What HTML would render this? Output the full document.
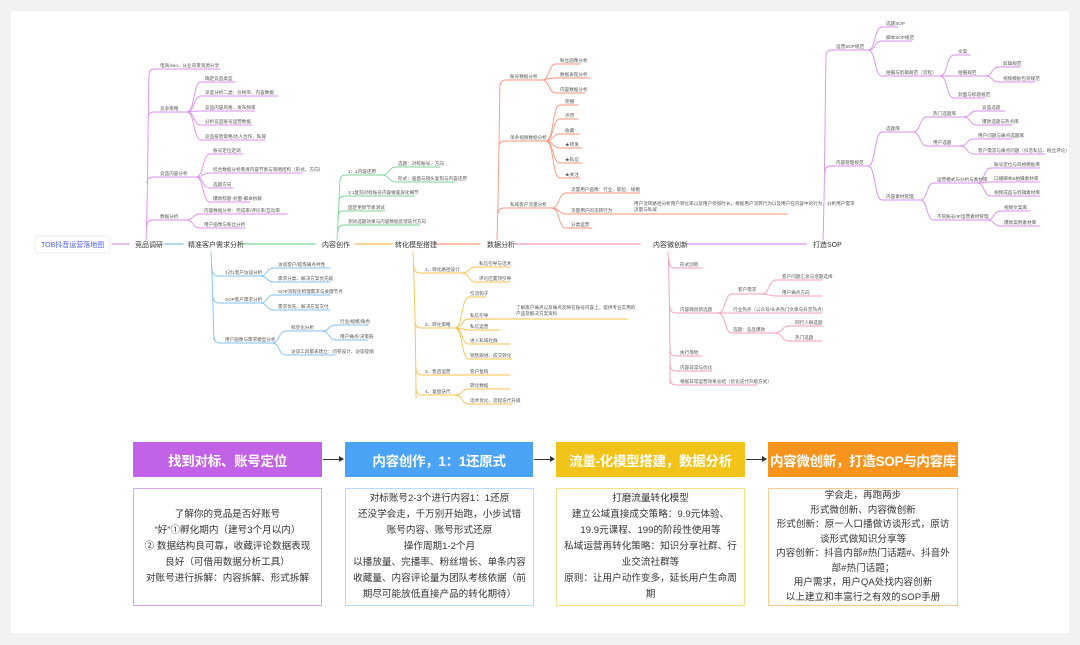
<!DOCTYPE html>
<html><head><meta charset="utf-8">
<style>
html,body{margin:0;padding:0;background:#f2f2f2;}
body{width:1080px;height:645px;overflow:hidden;position:relative;font-family:"Liberation Sans","Noto Sans CJK SC",sans-serif;}
.card{position:absolute;left:11px;top:11px;width:1058px;height:622px;background:#fff;}
svg{position:absolute;left:0;top:0;}
svg text{font-family:"Liberation Sans","Noto Sans CJK SC",sans-serif;font-size:4.6px;fill:#555;}
svg text.m{font-size:7px;fill:#333;}
.hd{position:absolute;top:442px;height:35px;color:#fff;font-weight:bold;font-size:13.5px;letter-spacing:-0.3px;display:flex;align-items:center;justify-content:center;white-space:nowrap;overflow:hidden;}
.bx{position:absolute;top:488px;height:118px;box-sizing:border-box;border:1.5px solid;font-size:9.6px;line-height:16px;color:#333;text-align:center;display:flex;align-items:center;justify-content:center;padding:0 6px;}
.ar{position:absolute;top:459px;height:1px;background:#333;}
.ar:after{content:"";position:absolute;right:-1px;top:-3px;border-left:5px solid #333;border-top:3.5px solid transparent;border-bottom:3.5px solid transparent;}
</style></head><body>
<div class="card"></div>
<svg width="1080" height="645" viewBox="0 0 1080 645" fill="none" stroke-linecap="round">
<rect x="35" y="236" width="75" height="17" rx="3" fill="#fff" stroke="#eee"/>
<text x="41" y="247" style="font-size:7px;fill:#4a5bf0">TOB抖音运营落地图</text>
<g stroke-width="1.3">
<line x1="112" y1="244" x2="129" y2="244" stroke="#e08ef0"/>
<line x1="164" y1="244" x2="183" y2="244" stroke="#7fc0f5"/>
<line x1="239" y1="244" x2="315" y2="244" stroke="#7ed69a"/>
<line x1="355" y1="244" x2="392" y2="244" stroke="#f8c050"/>
<line x1="435" y1="244" x2="480" y2="244" stroke="#f7967a"/>
<line x1="515" y1="244" x2="640" y2="244" stroke="#f59ab8"/>
<line x1="686" y1="244" x2="806" y2="244" stroke="#d98cf0"/>
</g>
<text class="m" x="135" y="247">竞品调研</text>
<text class="m" x="188" y="247">精准客户需求分析</text>
<text class="m" x="322" y="247">内容创作</text>
<text class="m" x="395" y="247">转化模型搭建</text>
<text class="m" x="487" y="247">数据分析</text>
<text class="m" x="653" y="247">内容微创新</text>
<text class="m" x="813" y="247">打造SOP</text>

<g stroke="#e08ef0" stroke-width="0.9">
<path d="M146 240 C148 200,148 100,149 75"/>
<path d="M149 75 Q149 69 155 69 H220"/>
<path d="M148 118 Q148 112 154 112 H187"/>
<path d="M147 183 Q147 177 153 177 H196"/>
<path d="M147 226 Q147 220 153 220 H186"/>
<path d="M187 112 C195 112,193 82,201 82 H235"/>
<path d="M187 112 C195 112,193 96,201 96 H278"/>
<path d="M187 112 Q195 111 201 111 H255"/>
<path d="M187 112 C195 112,193 125,201 125 H252"/>
<path d="M187 112 C195 112,193 140,201 140 H265"/>
<path d="M196 177 C204 177,202 154,210 154 H243"/>
<path d="M196 177 C204 177,202 173,210 173 H302"/>
<path d="M196 177 C204 177,202 188,210 188 H233"/>
<path d="M196 177 C204 177,202 202,210 202 H250"/>
<path d="M186 220 C194 220,192 214,200 214 H287"/>
<path d="M186 220 C194 220,192 228,200 228 H245"/>
</g>
<text x="160" y="67">电商/seo、从业背景资源分享</text>
<text x="160" y="110">竞争策略</text>
<text x="205" y="80">确定竞品类型</text>
<text x="205" y="94">深度分析二类：价格带、内容数据</text>
<text x="205" y="109">竞品内容风格、发布频率</text>
<text x="205" y="123">分析竞品账号运营数据</text>
<text x="205" y="138">竞品投放策略/达人合作、私域</text>
<text x="160" y="175">竞品内容分析</text>
<text x="213" y="152">账号定位定调</text>
<text x="213" y="171">综合数据分析看清内容节奏与策略结构（形式、方向）</text>
<text x="213" y="186">选题方向</text>
<text x="213" y="200">爆款标题-封面-脚本拆解</text>
<text x="160" y="218">数据分析</text>
<text x="204" y="212">内容数据分析：完成率/评论率/互动率</text>
<text x="204" y="226">用户画像与粉丝分析</text>

<g stroke="#7fc0f5" stroke-width="0.9">
<path d="M211 252 C213 290,213 320,214 340"/>
<path d="M212 268 Q212 276 218 276 H260"/>
<path d="M213 296 Q213 303 219 303 H260"/>
<path d="M214 336 Q214 343 220 343 H272"/>
<path d="M260 276 C268 276,266 268,274 268 H330"/>
<path d="M260 276 C268 276,266 282,274 282 H330"/>
<path d="M260 303 C268 303,266 295,274 295 H330"/>
<path d="M260 303 C268 303,266 310,274 310 H330"/>
<path d="M272 343 C280 343,278 331,286 331 H322"/>
<path d="M272 343 C280 343,278 355,286 355 H335"/>
<path d="M322 331 C330 331,328 325,336 325 H368"/>
<path d="M322 331 C330 331,328 340,336 340 H368"/>
</g>
<text x="225" y="274">1对1客户访谈分析</text>
<text x="278" y="266">访谈客户/提炼痛点共性</text>
<text x="278" y="280">需求分类、解决方案优先级</text>
<text x="225" y="301">SOP客户需求分析</text>
<text x="278" y="293">SOP流程化梳理需求与关键节点</text>
<text x="278" y="308">需求优先、解决方案交付</text>
<text x="225" y="341">用户画像与需求模型分析</text>
<text x="291" y="329">标签化分析</text>
<text x="340" y="323">行业/规模/角色</text>
<text x="340" y="338">用户痛点/决策链</text>
<text x="291" y="353">访谈工具量表建立：问卷设计、访谈提纲</text>

<g stroke="#7ed69a" stroke-width="0.9">
<path d="M337 240 C339 210,339 190,340 181"/>
<path d="M340 181 Q340 175 346 175 H382"/>
<path d="M339 202 Q339 196 345 196 H415"/>
<path d="M338 217 Q338 211 344 211 H385"/>
<path d="M338 231 Q338 225 344 225 H420"/>
<path d="M382 175 C390 175,388 167,396 167 H440"/>
<path d="M382 175 C390 175,388 182,396 182 H455"/>
</g>
<text x="348" y="173">1：1内容还原</text>
<text x="398" y="165">选题：对标账号、方向</text>
<text x="398" y="180">形式：画面与镜头复刻与内容还原</text>
<text x="348" y="194">1:1复刻对标账号内容做差异化细节</text>
<text x="348" y="209">固定更新节奏测试</text>
<text x="348" y="223">测试选题效果与内容数据反馈迭代方向</text>

<g stroke="#f8c050" stroke-width="0.9">
<path d="M413 252 C415 300,416 370,416 398"/>
<path d="M414 266 Q414 273 420 273 H462"/>
<path d="M415 321 Q415 328 421 328 H455"/>
<path d="M416 368 Q416 375 422 375 H455"/>
<path d="M416 388 Q416 395 422 395 H455"/>
<path d="M462 273 C470 273,468 267,476 267 H510"/>
<path d="M462 273 C470 273,468 282,476 282 H510"/>
<path d="M455 328 C463 328,461 297,469 297 H486"/>
<path d="M455 328 C463 328,461 319,469 319 H628"/>
<path d="M455 328 Q463 329 469 330 H500"/>
<path d="M455 328 C463 328,461 344,469 344 H510"/>
<path d="M455 328 C463 328,461 359,469 359 H512"/>
<path d="M455 375 Q462 375 469 375 H510"/>
<path d="M455 395 C463 395,461 389,469 389 H510"/>
<path d="M455 395 C463 395,461 404,469 404 H512"/>
</g>
<text x="425" y="271">1、转化路径设计</text>
<text x="479" y="265">私信引导与话术</text>
<text x="479" y="280">评论区置顶引导</text>
<text x="425" y="326">2、转化策略</text>
<text x="470" y="295">引流钩子</text>
<text x="470" y="317">私信引导</text>
<text x="516" y="309">了解客户痛点以及痛点反映在账号内容上，提供专业实用的</text>
<text x="516" y="315">产品及解决方案资料</text>
<text x="470" y="328">私信运营</text>
<text x="470" y="342">进入私域社群</text>
<text x="470" y="357">销售跟进、成交转化</text>
<text x="425" y="373">3、售后运营</text>
<text x="470" y="373">客户复购</text>
<text x="425" y="393">4、复盘迭代</text>
<text x="470" y="387">转化数据</text>
<text x="470" y="402">话术优化、流程迭代升级</text>

<g stroke="#f7967a" stroke-width="0.9">
<path d="M497 240 C499 180,499 120,500 86"/>
<path d="M500 86 Q500 80 506 80 H542"/>
<path d="M499 147 Q499 141 505 141 H546"/>
<path d="M498 214 Q498 208 504 208 H552"/>
<path d="M542 80 C550 80,548 64,556 64 H580"/>
<path d="M542 80 Q550 78 556 78 H590"/>
<path d="M542 80 C550 80,548 93,556 93 H585"/>
<path d="M546 141 C554 141,552 105,560 105 H578"/>
<path d="M546 141 C554 141,552 119,560 119 H578"/>
<path d="M546 141 C554 141,552 134,560 134 H580"/>
<path d="M546 141 C554 141,552 148,560 148 H582"/>
<path d="M546 141 C554 141,552 163,560 163 H582"/>
<path d="M546 141 C554 141,552 178,560 178 H580"/>
<path d="M552 208 C560 208,558 193,566 193 H640"/>
<path d="M552 208 C560 208,558 214,566 214 H788"/>
<path d="M552 208 C560 208,558 228,566 228 H592"/>
</g>
<text x="510" y="78">账号数据分析</text>
<text x="560" y="62">粉丝画像分析</text>
<text x="560" y="76">数据表现分析</text>
<text x="560" y="91">内容数据分析</text>
<text x="510" y="139">单条视频数据分析</text>
<text x="565" y="103">完播</text>
<text x="565" y="117">点赞</text>
<text x="565" y="132">收藏</text>
<text x="565" y="146">★转发</text>
<text x="565" y="161">★私信</text>
<text x="565" y="176">★关注</text>
<text x="510" y="206">私域客户流量分析</text>
<text x="571" y="191">流量用户画像：行业、职位、规模</text>
<text x="571" y="212">流量用户的流转行为</text>
<text x="634" y="205">用户流转路径分析用户转化率以及用户停留时长，根据用户流转行为以及用户在内容中的行为，分析用户需求</text>
<text x="634" y="211">流量与私域</text>
<text x="571" y="226">分类运营</text>

<g stroke="#f59ab8" stroke-width="0.9">
<path d="M668 252 C670 300,670 360,670 384"/>
<path d="M669 260 Q669 268 675 268 H702"/>
<path d="M670 307 Q670 313 676 313 H718"/>
<path d="M670 349 Q670 356 676 356 H702"/>
<path d="M670 364 Q670 371 676 371 H712"/>
<path d="M670 378 Q670 385 676 385 H757"/>
<path d="M718 313 C726 313,724 294,732 294 H762"/>
<path d="M718 313 Q726 313 732 313 H822"/>
<path d="M718 313 C726 313,724 333,732 333 H775"/>
<path d="M762 294 C770 294,768 280,776 280 H822"/>
<path d="M762 294 C770 294,768 296,776 296 H822"/>
<path d="M775 333 C783 333,781 326,789 326 H822"/>
<path d="M775 333 C783 333,781 341,789 341 H822"/>
</g>
<text x="680" y="266">形式创新</text>
<text x="680" y="311">内容微创新选题</text>
<text x="738" y="291">客户需求</text>
<text x="782" y="278">客户问题汇总与话题选择</text>
<text x="782" y="294">用户痛点方向</text>
<text x="733" y="311">行业热点（公众号/头条热门文章与抖音热点）</text>
<text x="733" y="331">选题：竞品爆款</text>
<text x="795" y="324">同行人群选题</text>
<text x="795" y="339">热门选题</text>
<text x="680" y="354">执行落地</text>
<text x="680" y="369">内容日常与优化</text>
<text x="680" y="383">根据日常运营效果总结（优化迭代升级方式）</text>

<g stroke="#d98cf0" stroke-width="0.9">
<path d="M823 240 C825 180,825 100,826 56"/>
<path d="M826 56 Q826 50 832 50 H868"/>
<path d="M825 172 Q825 166 831 166 H868"/>
<path d="M868 50 C876 50,874 27,882 27 H898"/>
<path d="M868 50 C876 50,874 41,882 41 H912"/>
<path d="M868 50 C876 50,874 76,882 76 H940"/>
<path d="M940 76 C948 76,946 55,954 55 H970"/>
<path d="M940 76 Q948 76 954 76 H985"/>
<path d="M940 76 C948 76,946 98,954 98 H985"/>
<path d="M985 76 C993 76,991 67,999 67 H1020"/>
<path d="M985 76 C993 76,991 82,999 82 H1035"/>
<path d="M868 166 C876 166,874 132,882 132 H913"/>
<path d="M868 166 C876 166,874 200,882 200 H920"/>
<path d="M913 132 C921 132,919 117,927 117 H963"/>
<path d="M913 132 C921 132,919 146,927 146 H960"/>
<path d="M963 117 C971 117,969 111,977 111 H1005"/>
<path d="M963 117 C971 117,969 125,977 125 H1012"/>
<path d="M960 146 C968 146,966 139,974 139 H1012"/>
<path d="M960 146 C968 146,966 154,974 154 H1045"/>
<path d="M920 200 C928 200,926 183,934 183 H977"/>
<path d="M920 200 C928 200,926 220,934 220 H987"/>
<path d="M977 183 C985 183,983 168,991 168 H1040"/>
<path d="M977 183 C985 183,983 182,991 182 H1040"/>
<path d="M977 183 C985 183,983 196,991 196 H1040"/>
<path d="M987 220 C995 220,993 211,1001 211 H1030"/>
<path d="M987 220 C995 220,993 226,1001 226 H1040"/>
</g>
<text x="836" y="48">运营SOP规范</text>
<text x="886" y="25">选题SOP</text>
<text x="886" y="39">脚本SOP规范</text>
<text x="886" y="74">拍摄与剪辑规范（流程）</text>
<text x="958" y="53">文案</text>
<text x="958" y="74">拍摄规范</text>
<text x="1003" y="65">剪辑规范</text>
<text x="1003" y="80">视频模板包装规范</text>
<text x="958" y="96">封面与标题规范</text>
<text x="836" y="164">内容管理规范</text>
<text x="886" y="130">选题库</text>
<text x="933" y="115">热门选题库</text>
<text x="982" y="109">竞品选题</text>
<text x="982" y="123">爆款选题与热点库</text>
<text x="933" y="144">用户选题</text>
<text x="978" y="137">用户问题与痛点选题库</text>
<text x="978" y="152">客户需求与痛点问题（抖音私信、粉丝评论）</text>
<text x="886" y="198">内容素材管理</text>
<text x="937" y="181">运营模式与分析与素材库</text>
<text x="994" y="166">账号定位与风格模板库</text>
<text x="994" y="180">口播脚本&amp;拍摄素材库</text>
<text x="994" y="194">视频成品与剪辑素材库</text>
<text x="937" y="218">不同账号/IP运营素材管理</text>
<text x="1004" y="209">视频文案库</text>
<text x="1004" y="224">爆款案例素材库</text>
</svg>

<div class="hd" style="left:133px;width:189px;background:#c262e6;">找到对标、账号定位</div>
<div class="hd" style="left:345px;width:188px;background:#4aa3f5;">内容创作，1：1还原式</div>
<div class="hd" style="left:556px;width:189px;background:#f2c318;">流量-化模型搭建，数据分析</div>
<div class="hd" style="left:768px;width:190px;background:#f7941d;">内容微创新，打造SOP与内容库</div>
<div class="ar" style="left:323px;width:20px;"></div>
<div class="ar" style="left:534px;width:20px;"></div>
<div class="ar" style="left:746px;width:20px;"></div>

<div class="bx" style="left:133px;width:189px;border-color:#d9a6ee;"><div>了解你的竞品是否好账号<br>“好”①孵化期内（建号3个月以内）<br>② 数据结构良可靠，收藏评论数据表现良好（可借用数据分析工具）<br>对账号进行拆解：内容拆解、形式拆解</div></div>
<div class="bx" style="left:345px;width:189px;border-color:#b9dcfa;"><div>对标账号2-3个进行内容1：1还原<br>还没学会走，千万别开始跑，小步试错<br>账号内容、账号形式还原<br>操作周期1-2个月<br>以播放量、完播率、粉丝增长、单条内容收藏量、内容评论量为团队考核依据（前期尽可能放低直接产品的转化期待）</div></div>
<div class="bx" style="left:556px;width:189px;border-color:#f7e08a;"><div>打磨流量转化模型<br>建立公域直接成交策略：9.9元体验、19.9元课程、199的阶段性使用等<br>私域运营再转化策略：知识分享社群、行业交流社群等<br>原则：让用户动作变多，延长用户生命周期</div></div>
<div class="bx" style="left:768px;width:190px;border-color:#f9cb8c;line-height:14.5px;"><div>学会走，再跑两步<br>形式微创新、内容微创新<br>形式创新：原一人口播做访谈形式，原访谈形式做知识分享等<br>内容创新：抖音内部#热门话题#、抖音外部#热门话题；<br>用户需求，用户QA处找内容创新<br>以上建立和丰富行之有效的SOP手册</div></div>
</body></html>
